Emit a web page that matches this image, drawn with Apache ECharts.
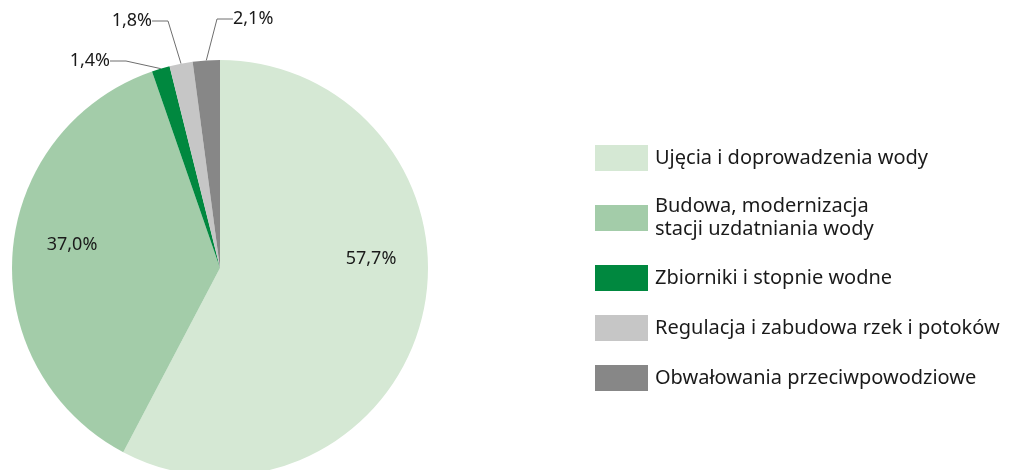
<!DOCTYPE html>
<html>
<head>
<meta charset="utf-8">
<script src="https://cdn.jsdelivr.net/npm/echarts@6/dist/echarts.min.js"></script>
<style>
  html, body { margin: 0; padding: 0; background: #fff; }
  #main { width: 1010px; height: 470px; }
</style>
</head>
<body>
<div id="main"></div>
<script>
var categories = [
  'Ujęcia i doprowadzenia wody',
  'Budowa, modernizacja\nstacji uzdatniania wody',
  'Zbiorniki i stopnie wodne',
  'Regulacja i zabudowa rzek i potoków',
  'Obwałowania przeciwpowodziowe'
]
var shares = [57.7, 37.0, 1.4, 1.8, 2.1]
var colors = ['#d5e8d4', '#a3cca9', '#00883f', '#c6c6c6', '#878787']

// where each percent label sits (label anchor, not the slice)
var labelSpots = [
  { x: 371, y: 259, align: 'center' },
  { x: 72, y: 245, align: 'center' },
  { x: 110, y: 61, align: 'right' },
  { x: 152, y: 21, align: 'right' },
  { x: 233, y: 19, align: 'left' }
]

var myChart = echarts.init(document.getElementById('main'))

var pieData = categories.map(function (name, i) {
  var small = shares[i] < 5
  return {
    name: name,
    value: shares[i],
    itemStyle: { color: colors[i] },
    label: { position: small ? 'outside' : 'inside' },
    labelLine: { show: small, length: 20, length2: 16 }
  }
})

myChart.setOption({
  animation: false,
  textStyle: { fontFamily: 'Noto Sans' },
  legend: {
    orient: 'vertical',
    left: 595,
    top: 145,
    padding: 0,
    icon: 'rect',
    itemWidth: 53,
    itemHeight: 26,
    itemGap: 24,
    selectedMode: false,
    data: categories,
    textStyle: {
      fontFamily: 'Noto Sans',
      fontSize: 20,
      lineHeight: 23,
      color: '#1a1a1a',
      padding: [0, 0, 0, 2]
    }
  },
  series: [
    {
      type: 'pie',
      center: [220, 268],
      radius: 208,
      startAngle: 90,
      clockwise: true,
      avoidLabelOverlap: false,
      label: {
        formatter: function (p) {
          return p.value.toFixed(1).replace('.', ',') + '%'
        },
        fontFamily: 'Noto Sans',
        fontSize: 18,
        color: '#1a1a1a'
      },
      labelLine: {
        lineStyle: { color: '#6e6e6e', width: 1 },
        smooth: false
      },
      labelLayout: function (params) {
        var s = labelSpots[params.dataIndex]
        return {
          x: s.x,
          y: s.y,
          align: s.align,
          verticalAlign: 'middle'
        }
      },
      data: pieData
    }
  ]
})
</script>
</body>
</html>
